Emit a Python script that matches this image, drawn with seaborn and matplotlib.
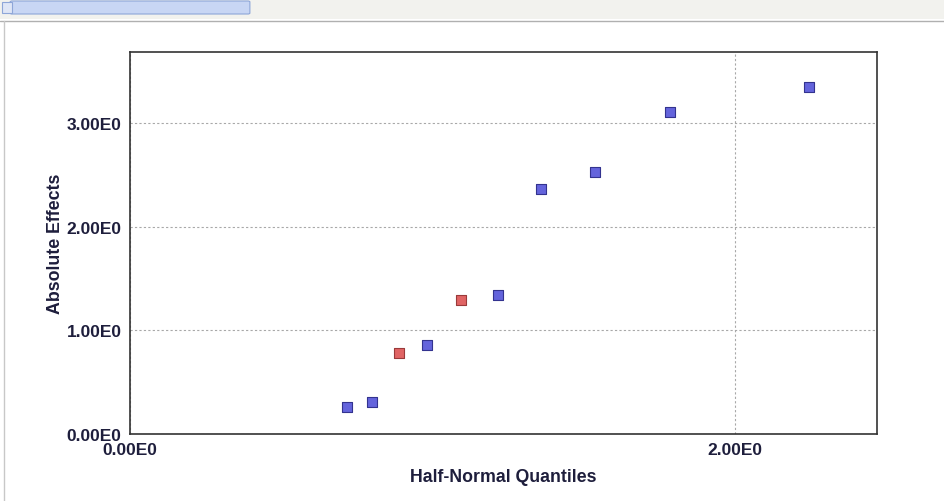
import matplotlib
matplotlib.use("Agg")
import matplotlib.pyplot as plt
import matplotlib.patches as mpatches
from matplotlib.ticker import FixedLocator, FuncFormatter
import seaborn as sns
import pandas as pd

# ---- data ----
quantiles = [0.716, 0.800, 0.888, 0.982, 1.093, 1.216, 1.357, 1.537, 1.785, 2.244]
effects   = [0.258, 0.312, 0.779, 0.859, 1.293, 1.342, 2.368, 2.532, 3.105, 3.352]
groups    = ["blue", "blue", "red", "blue", "red", "blue", "blue", "blue", "blue", "blue"]
x_major = [0.0, 2.0]
x_minor = [1.0]
y_major = [0.0, 1.0, 2.0, 3.0]
y_minor = [0.5, 1.5, 2.5, 3.5]
x_label = "Half-Normal Quantiles"
y_label = "Absolute Effects"

df = pd.DataFrame({"q": quantiles, "e": effects, "g": groups})

sns.set_theme(style="white")
plt.rcParams["font.family"] = ["Liberation Sans", "DejaVu Sans"]

fig = plt.figure(figsize=(9.45, 5.02), dpi=100)
fig.patch.set_facecolor("white")

# GUI-like top strip with scrollbar
fig.add_artist(mpatches.Rectangle((0, 1 - 20/502), 1, 20/502, transform=fig.transFigure,
                                  facecolor="#f2f2ee", edgecolor="none", zorder=0))
fig.add_artist(mpatches.FancyBboxPatch((12/945, 1 - 14/502), 236/945, 11/502,
                                       boxstyle="round,pad=0.002", transform=fig.transFigure,
                                       facecolor="#c8d6f4", edgecolor="#8ea6d8", lw=0.8, zorder=1))
fig.add_artist(mpatches.Rectangle((2/945, 1 - 14/502), 10/945, 11/502, transform=fig.transFigure,
                                  facecolor="#dfe6f6", edgecolor="#8ea6d8", lw=0.8, zorder=1))
fig.add_artist(plt.Line2D([0, 1], [1 - 22/502, 1 - 22/502], transform=fig.transFigure,
                          color="#b0b0b0", lw=1.0))
fig.add_artist(plt.Line2D([4/945, 4/945], [0, 1 - 22/502], transform=fig.transFigure,
                          color="#c8c8c8", lw=1.0))

ax = fig.add_axes([130/945, 1 - 435/502, (877 - 130)/945, (435 - 52.7)/502])
ax.set_facecolor("white")

palette = {"blue": "#6464dc", "red": "#e06464"}
edge_map = {"blue": "#33338f", "red": "#9a3a3a"}
for g in ["blue", "red"]:
    sub = df[df.g == g]
    sns.scatterplot(data=sub, x="q", y="e", ax=ax, marker="s", s=55,
                    color=palette[g], edgecolor=edge_map[g], linewidth=0.8,
                    legend=False, zorder=3)

ax.set_xlim(0, 2.469)
ax.set_ylim(0, 3.69)

ax.xaxis.set_major_locator(FixedLocator(x_major))
ax.xaxis.set_minor_locator(FixedLocator(x_minor))
ax.yaxis.set_major_locator(FixedLocator(y_major))
ax.yaxis.set_minor_locator(FixedLocator(y_minor))
fmt = FuncFormatter(lambda v, p: f"{v:.2f}E0")
ax.xaxis.set_major_formatter(fmt)
ax.yaxis.set_major_formatter(fmt)

ax.grid(True, which="major", color="#a8a8a8", linestyle=(0, (2, 2)), linewidth=0.8)
ax.set_axisbelow(True)

text_color = "#1e1e3c"
ax.tick_params(axis="both", which="both", direction="out", color="#333333",
               labelcolor=text_color, labelsize=12.5, width=1.0)
ax.tick_params(axis="both", which="major", length=4, pad=2)
ax.tick_params(axis="both", which="minor", length=4)
for lab in ax.get_xticklabels() + ax.get_yticklabels():
    lab.set_fontweight("bold")

for sp in ax.spines.values():
    sp.set_color("#333333")
    sp.set_linewidth(1.2)

ax.set_xlabel(x_label, fontsize=12.8, fontweight="bold", color=text_color, labelpad=8)
ax.set_ylabel(y_label, fontsize=12.8, fontweight="bold", color=text_color, labelpad=2)

fig.savefig("out.png", dpi=100, facecolor="white")
